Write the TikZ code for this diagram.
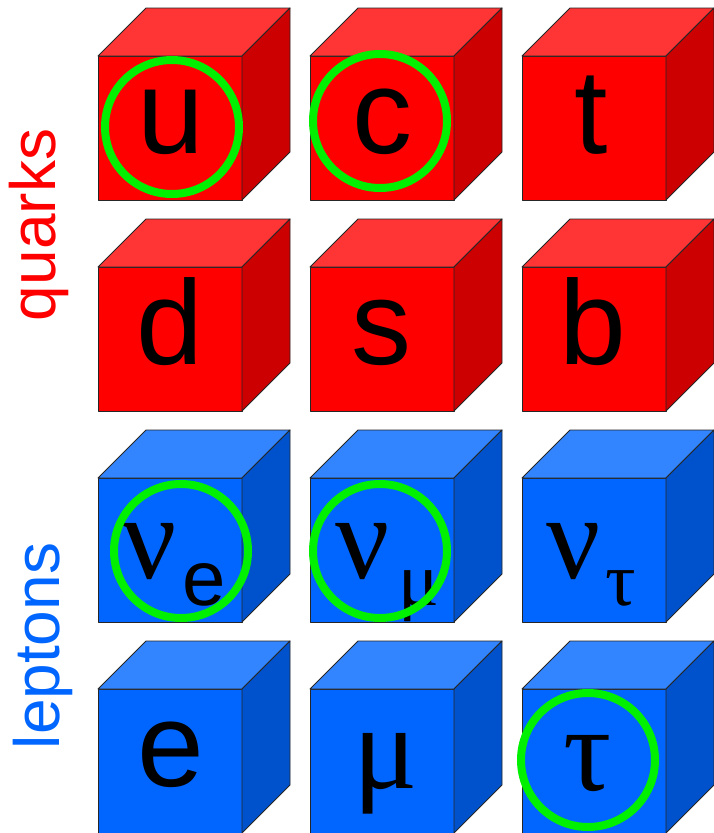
\documentclass[tikz,border=0pt]{standalone}
\usepackage{fontspec}
\setmainfont{Liberation Sans}
\newfontfamily\greekfont{Liberation Serif}
\definecolor{qfront}{HTML}{FF0000}
\definecolor{qtop}{HTML}{FF3535}
\definecolor{qside}{HTML}{CC0000}
\definecolor{lfront}{HTML}{0066FF}
\definecolor{ltop}{HTML}{3385FF}
\definecolor{lside}{HTML}{0052CC}
\definecolor{ringgreen}{HTML}{00F000}
\tikzset{
  x=1pt, y=-1pt,
  facet/.style={draw=black!85, line width=0.9pt, line join=round},
  flavour/.style={anchor=base, inner sep=0pt, font=\fontsize{120}{120}\selectfont},
  greek/.style={anchor=base, inner sep=0pt, font=\greekfont\fontsize{120}{120}\selectfont},
  subsans/.style={anchor=base, inner sep=0pt, font=\fontsize{78}{78}\selectfont},
  subgreek/.style={anchor=base, inner sep=0pt, font=\greekfont\fontsize{76}{76}\selectfont},
  family/.style={anchor=base, rotate=90, inner sep=0pt, font=\fontsize{64}{64}\selectfont},
  ring/.style={circle, draw=ringgreen, line width=8pt, minimum size=134pt, inner sep=0pt},
}
% cube with front face at (#1,#2), size 144, depth 48
\newcommand{\flavourcube}[5]{%
  \fill[#3, facet] (#1,#2) rectangle ++(144,144);
  \fill[#4, facet] (#1,#2) -- ++(48,-48) -- ++(144,0) -- ++(-48,48) -- cycle;
  \fill[#5, facet] (#1+144,#2) -- ++(48,-48) -- ++(0,144) -- ++(-48,48) -- cycle;
}
\begin{document}
\begin{tikzpicture}
\useasboundingbox (0,0) rectangle (713,833);
% quark cubes
\foreach \cx in {98,310,522}{
  \foreach \cy in {56,267}{
    \flavourcube{\cx}{\cy}{qfront}{qtop}{qside}
  }
}
% lepton cubes
\foreach \cx in {98,310,522}{
  \foreach \cy in {478,689}{
    \flavourcube{\cx}{\cy}{lfront}{ltop}{lside}
  }
}
% quark labels
\node[flavour] (u) at (171,153) {u};
\node[flavour] (c) at (382,153) {c};
\node[flavour] (t) at (591,153) {t};
\node[flavour] (d) at (170,364) {d};
\node[flavour] (s) at (381,364) {s};
\node[flavour] (b) at (593,364) {b};
% lepton labels
\node[greek] (nue) at (150,578) {ν};
\node[subsans] (nuesub) at (204,605) {e};
\node[greek] (num) at (363,578) {ν};
\node[subgreek] (numsub) at (419,605) {μ};
\node[greek] (nut) at (574,578) {ν};
\node[subgreek] (nutsub) at (621,605) {τ};
\node[flavour] (e) at (171,786) {e};
\node[greek] (mu) at (386,788) {μ};
\node[greek] (tau) at (588,790) {τ};
% family names
\node[family, text=qfront] (quarks) at (55,225) {quarks};
\node[family, text=lfront] (leptons) at (59,646) {leptons};
% green rings
\node[ring] (ru) at (172,127) {};
\node[ring] (rc) at (380,121) {};
\node[ring] (rnue) at (181,551) {};
\node[ring] (rnum) at (380,551) {};
\node[ring] (rtau) at (588,760) {};
\end{tikzpicture}
\end{document}
